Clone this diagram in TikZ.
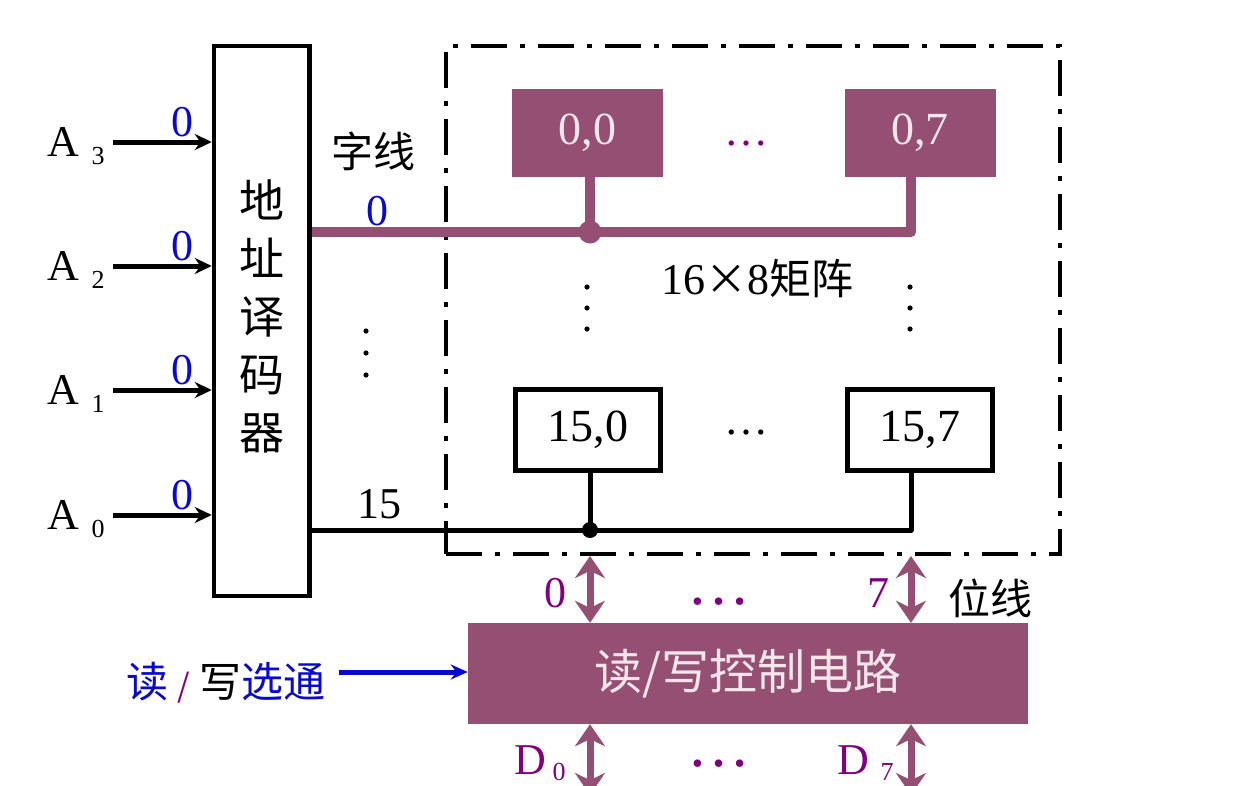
\documentclass[tikz,border=0pt]{standalone}
\usepackage{fontspec}
\setmainfont{Liberation Serif}
\newfontfamily\cjk{Noto Sans CJK SC}
\usetikzlibrary{arrows.meta,positioning}
\definecolor{cellpurple}{HTML}{954F72}
\definecolor{labelpurple}{HTML}{800080}
\definecolor{signalblue}{HTML}{0A0ACC}
\definecolor{cellink}{HTML}{F4E6EA}

\begin{document}
\begin{tikzpicture}[x=1pt,y=-1pt,
    cellon/.style={fill=cellpurple,text=cellink,minimum width=151pt,minimum height=88pt,inner sep=0pt,font=\fontsize{46}{50}\selectfont},
    celloff/.style={draw,line width=5pt,fill=white,minimum width=145pt,minimum height=81pt,inner sep=0pt,font=\fontsize{46}{50}\selectfont},
    latin/.style={inner sep=0pt,font=\fontsize{44}{48}\selectfont},
    subs/.style={inner sep=0pt,font=\fontsize{26}{28}\selectfont},
    hanzi/.style={inner sep=0pt,font=\cjk\fontsize{42}{46}\selectfont},
    addrarrow/.style={line width=5pt,-{Stealth[length=17pt,width=16pt]}},
    bitarrow/.style={cellpurple,line width=7pt,{Stealth[length=22pt,width=30pt]}-{Stealth[length=22pt,width=30pt]}},
  ]
  \useasboundingbox (0,0) rectangle (1242,785);
  \clip (0,0) rectangle (1242,785);

  % address decoder and its inputs
  \node[draw,line width=4.5pt,minimum width=95.5pt,minimum height=550pt,inner sep=0pt] (dec) at (261.75,321) {};
  \node[hanzi,font=\cjk\fontsize{45}{58}\selectfont,align=center] (dectext) at (262,316) {地\\址\\译\\码\\器};
  \foreach \i/\y in {3/142,2/266,1/390,0/515}{
    \coordinate (in\i) at (113,\y);
    \draw[addrarrow] (in\i) -- (in\i -| dec.west);
    \node[latin] (a\i) at (63,\y) {A};
    \node[subs] (asub\i) at (98,\y+14) {\i};
    \node[latin,text=signalblue] (abit\i) at (182,\y-20) {0};
  }

  % memory array
  \node[draw,line width=4pt,dash pattern=on 36pt off 13pt on 5pt off 13pt,minimum width=614pt,minimum height=508pt,inner sep=0pt] (array) at (753,300) {};
  \node[cellon] (c00) at (587.5,133) {0,0};
  \node[cellon] (c07) at (920,133) {0,7};
  \node[celloff] (c150) at (588,430) {15,0};
  \node[celloff] (c157) at (920,430) {15,7};
  \coordinate (col0) at (590,0);
  \coordinate (col7) at (911,0);

  % word line 0
  \coordinate (wl0) at (311.75,232);
  \draw[cellpurple,line width=10pt,line join=round] (wl0) -| (c07.south -| col7);
  \draw[cellpurple,line width=10pt] (c00.south -| col0) -- (wl0 -| col0);
  \fill[cellpurple] (wl0 -| col0) circle (11.5pt);
  \node[hanzi] (wordlbl) at (373,151) {字线};
  \node[latin,text=signalblue] (wl0lbl) at (377,211) {0};

  % word line 15
  \coordinate (wl15) at (311.75,530);
  \draw[line width=5pt,line join=round] (wl15) -| (c157.south -| col7);
  \draw[line width=5pt] (c150.south -| col0) -- (wl15 -| col0);
  \fill (wl15 -| col0) circle (8pt);
  \node[latin] (wl15lbl) at (379,504) {15};

  % ellipses
  \node[latin,text=labelpurple] (dotstop) at (746,144) {…};
  \node[latin] (dotsbot) at (746,433) {…};
  \foreach \y in {287,308,329}{
    \fill (587,\y) circle (2.6pt);
    \fill (910,\y) circle (2.6pt);
  }
  \foreach \y in {331,353,375}
    \fill (366,\y) circle (2.6pt);
  \node[latin] (arraylbl) at (757,279) {16{\cjk\fontsize{42}{46}\selectfont ×}8{\cjk\fontsize{42}{46}\selectfont 矩阵}};

  % read/write control
  \node[fill=cellpurple,minimum width=560pt,minimum height=101pt,inner sep=0pt,text=cellink,font=\cjk\fontsize{48}{52}\selectfont] (rw) at (748,673.5) {读/写控制电路};
  \draw[bitarrow] (array.south -| col0) -- (rw.north -| col0);
  \draw[bitarrow] (array.south -| col7) -- (rw.north -| col7);
  \coordinate (d0end) at (590,795);
  \coordinate (d7end) at (911,795);
  \draw[bitarrow] (rw.south -| col0) -- (d0end);
  \draw[bitarrow] (rw.south -| col7) -- (d7end);
  \node[latin,text=labelpurple] (bit0) at (555,593) {0};
  \node[latin,text=labelpurple] (bit7) at (878,593) {7};
  \node[latin,font=\fontsize{63}{63}\selectfont,text=labelpurple] (dotsbit) at (719,602) {…};
  \node[hanzi] (bitlbl) at (990,598) {位线};
  \node[latin,text=labelpurple] (d0) at (530,760) {D};
  \node[subs,text=labelpurple] (d0sub) at (559,772) {0};
  \node[latin,text=labelpurple] (d7) at (853,760) {D};
  \node[subs,text=labelpurple] (d7sub) at (887,772) {7};
  \node[latin,font=\fontsize{63}{63}\selectfont,text=labelpurple] (dotsd) at (719,764) {…};

  % strobe input
  \node[hanzi,text=signalblue] (rwsel) at (226,683) {读 {\color{labelpurple}\fontsize{32}{32}\selectfont/} {\color{black}写}选通};
  \coordinate (selstart) at (339,672);
  \draw[signalblue,line width=5pt,-{Stealth[length=17pt,width=15pt]}] (selstart) -- (selstart -| rw.west);
\end{tikzpicture}
\end{document}
